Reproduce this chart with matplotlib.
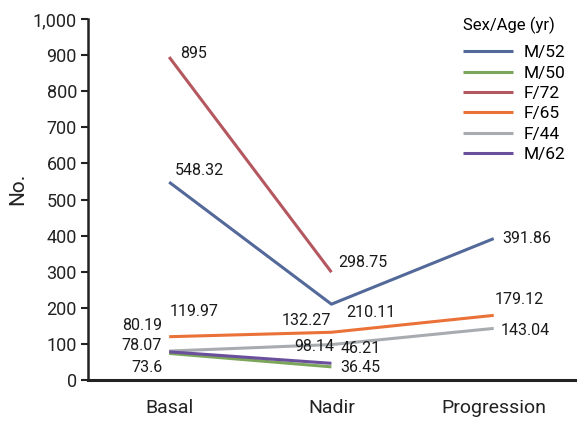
import matplotlib
matplotlib.use("Agg")
import matplotlib.pyplot as plt
from matplotlib.ticker import FuncFormatter

plt.rcParams['font.family'] = ['Roboto', 'Liberation Sans', 'DejaVu Sans']

categories = ["Basal", "Nadir", "Progression"]
series_names = ["M/52", "M/50", "F/72", "F/65", "F/44", "M/62"]
m52 = [548.32, 210.11, 391.86]
m50 = [73.6, 36.45]
f72 = [895, 298.75]
f65 = [119.97, 132.27, 179.12]
f44 = [80.19, 98.14, 143.04]
m62 = [78.07, 46.21]
colors = ["#53699a", "#7ca65a", "#b5575f", "#ea7238", "#a8acb1", "#6a4f9c"]
yticks = [0, 100, 200, 300, 400, 500, 600, 700, 800, 900, 1000]

# label offsets in pixels (dx, dy) and alignment
offsets = {
    "M/52": [(6, 12, 'left'), (15, -8, 'left'), (9, 0, 'left')],
    "M/50": [(-7, -14, 'right'), (9, -1, 'left')],
    "F/72": [(11, 4, 'left'), (7, 10, 'left')],
    "F/65": [(1, 25, 'left'), (0, 12, 'right'), (1, 16, 'left')],
    "F/44": [(-7, 26, 'right'), (3, -2, 'right'), (7, -2, 'left')],
    "M/62": [(-7, 6, 'right'), (9, 15, 'left')],
}

fig = plt.figure(figsize=(5.83, 4.26), dpi=100)
ax = fig.add_axes([0.151, 0.108, 0.835, 0.847])

data = [m52, m50, f72, f65, f44, m62]
for name, vals, c in zip(series_names, data, colors):
    xs = list(range(len(vals)))
    ax.plot(xs, vals, color=c, lw=2.2, label=name, solid_capstyle='butt')
    for i, v in enumerate(vals):
        dx, dy, ha = offsets[name][i]
        txt = f"{v:g}" if v != int(v) else f"{int(v)}"
        ax.annotate(txt, xy=(i, v), xytext=(dx, dy), textcoords='offset pixels',
                    ha=ha, va='center', fontsize=11.5, color='#1a1a1a')

ax.set_xlim(-0.5, 2.5)
ax.set_ylim(0, 1000)
ax.set_xticks(range(len(categories)))
ax.set_xticklabels(categories, fontsize=14)
ax.set_yticks(yticks)
ax.yaxis.set_major_formatter(FuncFormatter(lambda v, p: f"{int(v):,}"))
ax.tick_params(axis='y', labelsize=13, length=5, width=1.5, direction='out', pad=3,
               colors='#222222')
ax.tick_params(axis='x', length=0, pad=14, colors='#222222')
for s in ['top', 'right']:
    ax.spines[s].set_visible(False)
ax.spines['left'].set_linewidth(1.8)
ax.spines['bottom'].set_linewidth(2.2)
ax.spines['left'].set_color('#222222')
ax.spines['bottom'].set_color('#222222')
ax.set_ylabel("No.", fontsize=15, color='#222222')
ax.yaxis.set_label_coords(-0.125, 0.53)

leg = ax.legend(title="Sex/Age (yr)", loc='upper right', bbox_to_anchor=(1.012, 1.05),
                frameon=False, fontsize=12.5, title_fontsize=12, handlelength=2.9,
                labelspacing=0.3, handletextpad=0.6)
leg._legend_box.align = "left"
leg._legend_box.sep = 8

fig.savefig("out.png", dpi=100)
